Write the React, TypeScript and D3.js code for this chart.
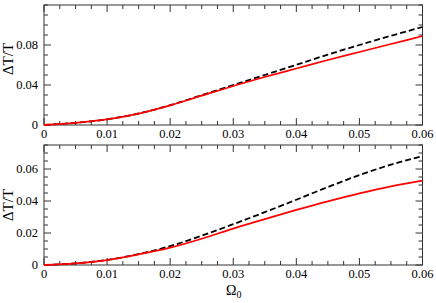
import * as d3 from 'd3';

// Omega_0 sample points shared by both panels
const omega = [0, 0.005, 0.01, 0.015, 0.02, 0.025, 0.03, 0.035, 0.04, 0.045, 0.05, 0.055, 0.06];

// upper panel
const topDashed = [0, 0.0022, 0.0057, 0.0115, 0.0198, 0.0298, 0.04, 0.05, 0.0602, 0.0704, 0.08, 0.0892, 0.098];
const topSolid = [0, 0.0022, 0.0056, 0.0114, 0.0196, 0.0293, 0.039, 0.048, 0.0565, 0.065, 0.073, 0.081, 0.089];

// lower panel
const bottomDashed = [0, 0.001, 0.0032, 0.0068, 0.0118, 0.0183, 0.0255, 0.033, 0.0408, 0.0487, 0.0562, 0.0627, 0.068];
const bottomSolid = [0, 0.001, 0.0031, 0.0066, 0.0108, 0.0164, 0.0228, 0.0287, 0.0344, 0.0398, 0.0448, 0.0492, 0.0527];

const xTicks = [0, 0.01, 0.02, 0.03, 0.04, 0.05, 0.06];
const topYTicks = [0, 0.04, 0.08];
const bottomYTicks = [0, 0.02, 0.04, 0.06];

const W = 436;
const H = 303;
const left = 44;
const right = 422.5;
const font = "'Times New Roman', 'Liberation Serif', Times, serif";

const fmt = (v: number) => (v === 0 ? '0' : String(+v.toFixed(2)));

type PanelProps = {
  top: number;
  bottom: number;
  yMax: number;
  yTicks: number[];
  yMinorStep: number;
  dashed: number[];
  solid: number[];
  labelY: number;
};

function Panel({ top, bottom, yMax, yTicks, yMinorStep, dashed, solid, labelY }: PanelProps) {
  const x = d3.scaleLinear().domain([0, 0.06]).range([left, right]);
  const y = d3.scaleLinear().domain([0, yMax]).range([bottom, top]);

  const line = (vals: number[]) =>
    d3
      .line<number>()
      .x((_, i) => x(omega[i]))
      .y((d) => y(d))
      .curve(d3.curveMonotoneX)(vals) ?? '';

  const xMinor = d3.range(0, 0.0601, 0.0025);
  const yMinor = d3.range(0, yMax + 1e-9, yMinorStep);
  const isMajor = (v: number, list: number[]) => list.some((t) => Math.abs(t - v) < 1e-9);
  const stroke = '#333';

  return (
    <g>
      {/* x ticks, inward on bottom and top */}
      {xMinor.map((v, i) => {
        const len = isMajor(v, xTicks) ? 7 : 4;
        return (
          <g key={'xt' + i} stroke={stroke} strokeWidth={1}>
            <line x1={x(v)} x2={x(v)} y1={bottom} y2={bottom - len} />
            <line x1={x(v)} x2={x(v)} y1={top} y2={top + len} />
          </g>
        );
      })}
      {yMinor.map((v, i) => {
        const len = isMajor(v, yTicks) ? 7 : 4;
        return (
          <g key={'yt' + i} stroke={stroke} strokeWidth={1}>
            <line x1={left} x2={left + len} y1={y(v)} y2={y(v)} />
            <line x1={right} x2={right - len} y1={y(v)} y2={y(v)} />
          </g>
        );
      })}
      <rect x={left} y={top} width={right - left} height={bottom - top} fill="none" stroke={stroke} strokeWidth={1} />

      <path d={line(dashed)} fill="none" stroke="#000" strokeWidth={1.8} strokeDasharray="6,3" />
      <path d={line(solid)} fill="none" stroke="#ff0000" strokeWidth={1.8} />

      {xTicks.map((v) => (
        <text key={'xl' + v} x={x(v)} y={bottom + 13} textAnchor="middle" fontSize={12.5} style={{ fontFamily: font }}>
          {fmt(v)}
        </text>
      ))}
      {yTicks.map((v) => (
        <text key={'yl' + v} x={38} y={y(v) + 4} textAnchor="end" fontSize={12.5} style={{ fontFamily: font }}>
          {fmt(v)}
        </text>
      ))}
      <text
        transform={`translate(13,${labelY}) rotate(-90)`}
        textAnchor="middle"
        fontSize={15}
        style={{ fontFamily: font }}
      >
        ΔT/T
      </text>
    </g>
  );
}

export default function App() {
  return (
    <div style={{ position: 'fixed', left: 0, top: 0 }}>
      <svg width={W} height={H} style={{ display: 'block', background: '#fff' }}>
        <Panel
          top={5}
          bottom={125}
          yMax={0.12}
          yTicks={topYTicks}
          yMinorStep={0.01}
          dashed={topDashed}
          solid={topSolid}
          labelY={59}
        />
        <Panel
          top={145}
          bottom={265}
          yMax={0.075}
          yTicks={bottomYTicks}
          yMinorStep={0.005}
          dashed={bottomDashed}
          solid={bottomSolid}
          labelY={205}
        />
        <text x={226} y={295} fontSize={14} style={{ fontFamily: font }}>
          Ω<tspan fontSize={10} dy={3}>0</tspan>
        </text>
      </svg>
    </div>
  );
}
